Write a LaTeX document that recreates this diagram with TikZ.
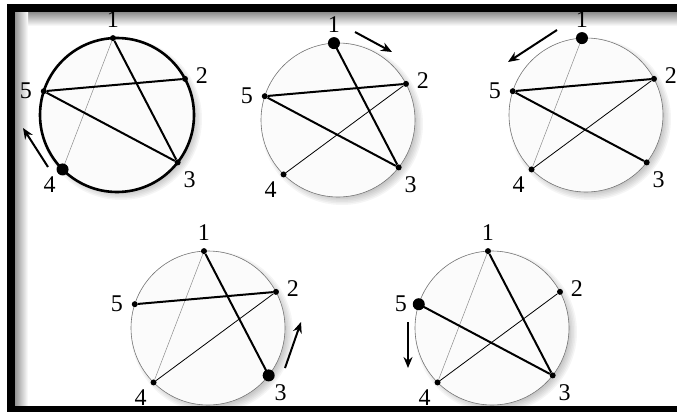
\documentclass[tikz,border=0pt]{standalone}
\usepackage{fontspec}
\setmainfont{Liberation Serif}
\usetikzlibrary{calc,arrows.meta}
\tikzset{
  dot/.style={circle,fill=black,inner sep=0pt,minimum size=6pt},
  bigdot/.style={circle,fill=black,inner sep=0pt,minimum size=12pt},
  num/.style={font=\fontsize{24}{24}\selectfont,inner sep=0pt},
  rim/.style={draw=black!55,line width=0.6pt,fill=black!1.5},
  boldrim/.style={draw=black,line width=2.6pt,fill=black!1.5},
  heavy/.style={line width=2pt},
  light/.style={line width=0.8pt},
  faint/.style={draw=black!45,line width=0.5pt},
  turn/.style={-{Stealth[length=11pt,width=9pt]},line width=2pt},
}
% one ring: name, centre x, centre y, rim style
\newcommand{\ring}[4]{%
  \coordinate (#1) at (#2,#3);
  \foreach \k in {0,...,5}
    \fill[black,opacity=0.04] ($(#1)+(4,4)$) circle ({81-\k*1.5});
  \path[#4] (#1) circle (77);
  \foreach \i/\a/\dx/\dy in {1/-93/0/-19,2/-28/17/-3,3/38/12/17,4/135/-13/15,5/-162/-18/0}{
    \node[dot] (#1\i) at ($(#1)+(\a:77)$) {};
    \node[num] (#1n\i) at ($(#1\i)+(\dx,\dy)$) {\i};
  }}

\begin{document}
\begin{tikzpicture}[x=1pt,y=-1pt]
\useasboundingbox (0,0) rectangle (677,412);

% frame
\shade[top color=black!45,bottom color=white] (14,12) rectangle (677,26);
\shade[left color=black!45,right color=white] (14,12) rectangle (28,406);
\fill (7,4) rectangle (14.5,412);
\fill (7,4) rectangle (677,12);

% ring A
\ring{A}{117}{115}{boldrim}
\draw[faint] (A1) -- (A4);
\draw[heavy] (A1) -- (A3);
\draw[heavy] (A5) -- (A2);
\draw[heavy] (A5) -- (A3);
\node[bigdot] (Abig) at (A4) {};
\coordinate (At) at (48,167);
\coordinate (Ah) at (23,128);
\draw[turn] (At) -- (Ah);

% ring B
\ring{B}{338}{120}{rim}
\draw[light] (B4) -- (B2);
\draw[heavy] (B1) -- (B3);
\draw[heavy] (B5) -- (B2);
\draw[heavy] (B5) -- (B3);
\node[bigdot] (Bbig) at (B1) {};
\coordinate (Bt) at (355,32);
\coordinate (Bh) at (392,52);
\draw[turn] (Bt) -- (Bh);

% ring C
\ring{C}{586}{115}{rim}
\draw[faint] (C1) -- (C4);
\draw[light] (C4) -- (C2);
\draw[heavy] (C5) -- (C2);
\draw[heavy] (C5) -- (C3);
\node[bigdot] (Cbig) at (C1) {};
\coordinate (Ct) at (557,30);
\coordinate (Ch) at (508,62);
\draw[turn] (Ct) -- (Ch);

% ring D
\ring{D}{208}{328}{rim}
\draw[faint] (D1) -- (D4);
\draw[light] (D4) -- (D2);
\draw[heavy] (D5) -- (D2);
\draw[heavy] (D1) -- (D3);
\node[bigdot] (Dbig) at (D3) {};
\coordinate (Dt) at (285,368);
\coordinate (Dh) at (301,322);
\draw[turn] (Dt) -- (Dh);

% ring E
\ring{E}{492}{328}{rim}
\draw[faint] (E1) -- (E4);
\draw[light] (E4) -- (E2);
\draw[heavy] (E5) -- (E3);
\draw[heavy] (E1) -- (E3);
\node[bigdot] (Ebig) at (E5) {};
\coordinate (Et) at (408,322);
\coordinate (Eh) at (408,368);
\draw[turn] (Et) -- (Eh);

% bottom edge over the rings
\fill (14.5,406) rectangle (677,412);
\end{tikzpicture}
\end{document}
